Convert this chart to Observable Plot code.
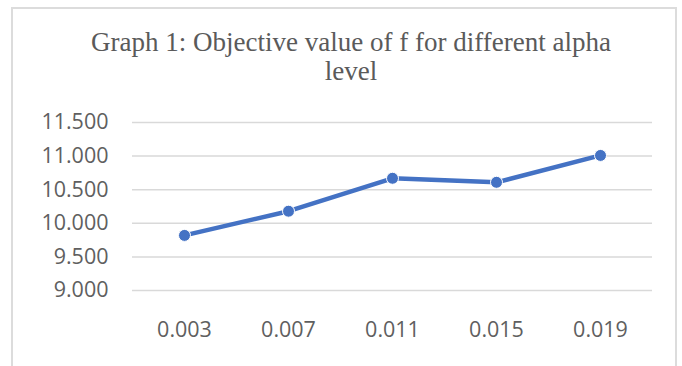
<!DOCTYPE html>
<html>
<head>
<meta charset="utf-8">
<script src="https://cdn.jsdelivr.net/npm/d3@7"></script>
<script src="https://cdn.jsdelivr.net/npm/@observablehq/plot@0.6"></script>
<style>
  html, body { margin: 0; padding: 0; background: #fff; width: 682px; height: 366px; overflow: hidden; }
  #frame {
    position: absolute; left: 11px; top: 7px; width: 666px; height: 380px;
    border: 2px solid #dcdcdc; box-sizing: border-box;
  }
  #chart { position: absolute; left: 0; top: 0; width: 682px; }
  #title {
    height: 95px; box-sizing: border-box; padding-top: 28px;
    font-family: "Liberation Serif", "Times New Roman", serif;
    font-size: 27px; line-height: 29px; color: #5a5a5a; text-align: center;
    padding-left: 20px; padding-right: 0; letter-spacing: 0px;
  }
  #title span { display: inline-block; }
  svg { display: block; }
</style>
</head>
<body>
<div id="frame"></div>
<div id="chart">
  <div id="title"><span>Graph 1: Objective value of f for different alpha</span><br><span>level</span></div>
</div>
<script>
// alpha levels on the x axis and the objective value of f at each level
const alphaLevels = ["0.003", "0.007", "0.011", "0.015", "0.019"];
const objectiveValues = [9.82, 10.18, 10.67, 10.61, 11.01];
const yTicks = [9, 9.5, 10, 10.5, 11, 11.5];

const rows = alphaLevels.map((a, i) => ({alpha: a, f: objectiveValues[i]}));

const plot = Plot.plot({
  width: 682,
  height: 271,
  marginLeft: 132,
  marginRight: 30,
  marginTop: 27,
  marginBottom: 76,
  style: {
    fontFamily: "'Open Sans', 'Noto Sans', sans-serif",
    fontSize: "21.5px",
    color: "#5f5f5f",
    background: "transparent"
  },
  x: {type: "band", domain: alphaLevels, padding: 0, label: null},
  y: {domain: [9, 11.5], label: null},
  marks: [
    Plot.gridY(yTicks, {stroke: "#d9d9d9", strokeOpacity: 1, strokeWidth: 1.5}),
    Plot.axisY({ticks: yTicks, tickSize: 0, tickPadding: 24, tickFormat: d3.format(".3f"), label: null}),
    Plot.axisX({tickSize: 0, tickPadding: 31, label: null}),
    Plot.line(rows, {x: "alpha", y: "f", stroke: "#4472C4", strokeWidth: 4.5}),
    Plot.dot(rows, {x: "alpha", y: "f", r: 6, fill: "#4472C4", stroke: "#fff", strokeWidth: 1})
  ]
});
document.getElementById("chart").appendChild(plot);
</script>
</body>
</html>
